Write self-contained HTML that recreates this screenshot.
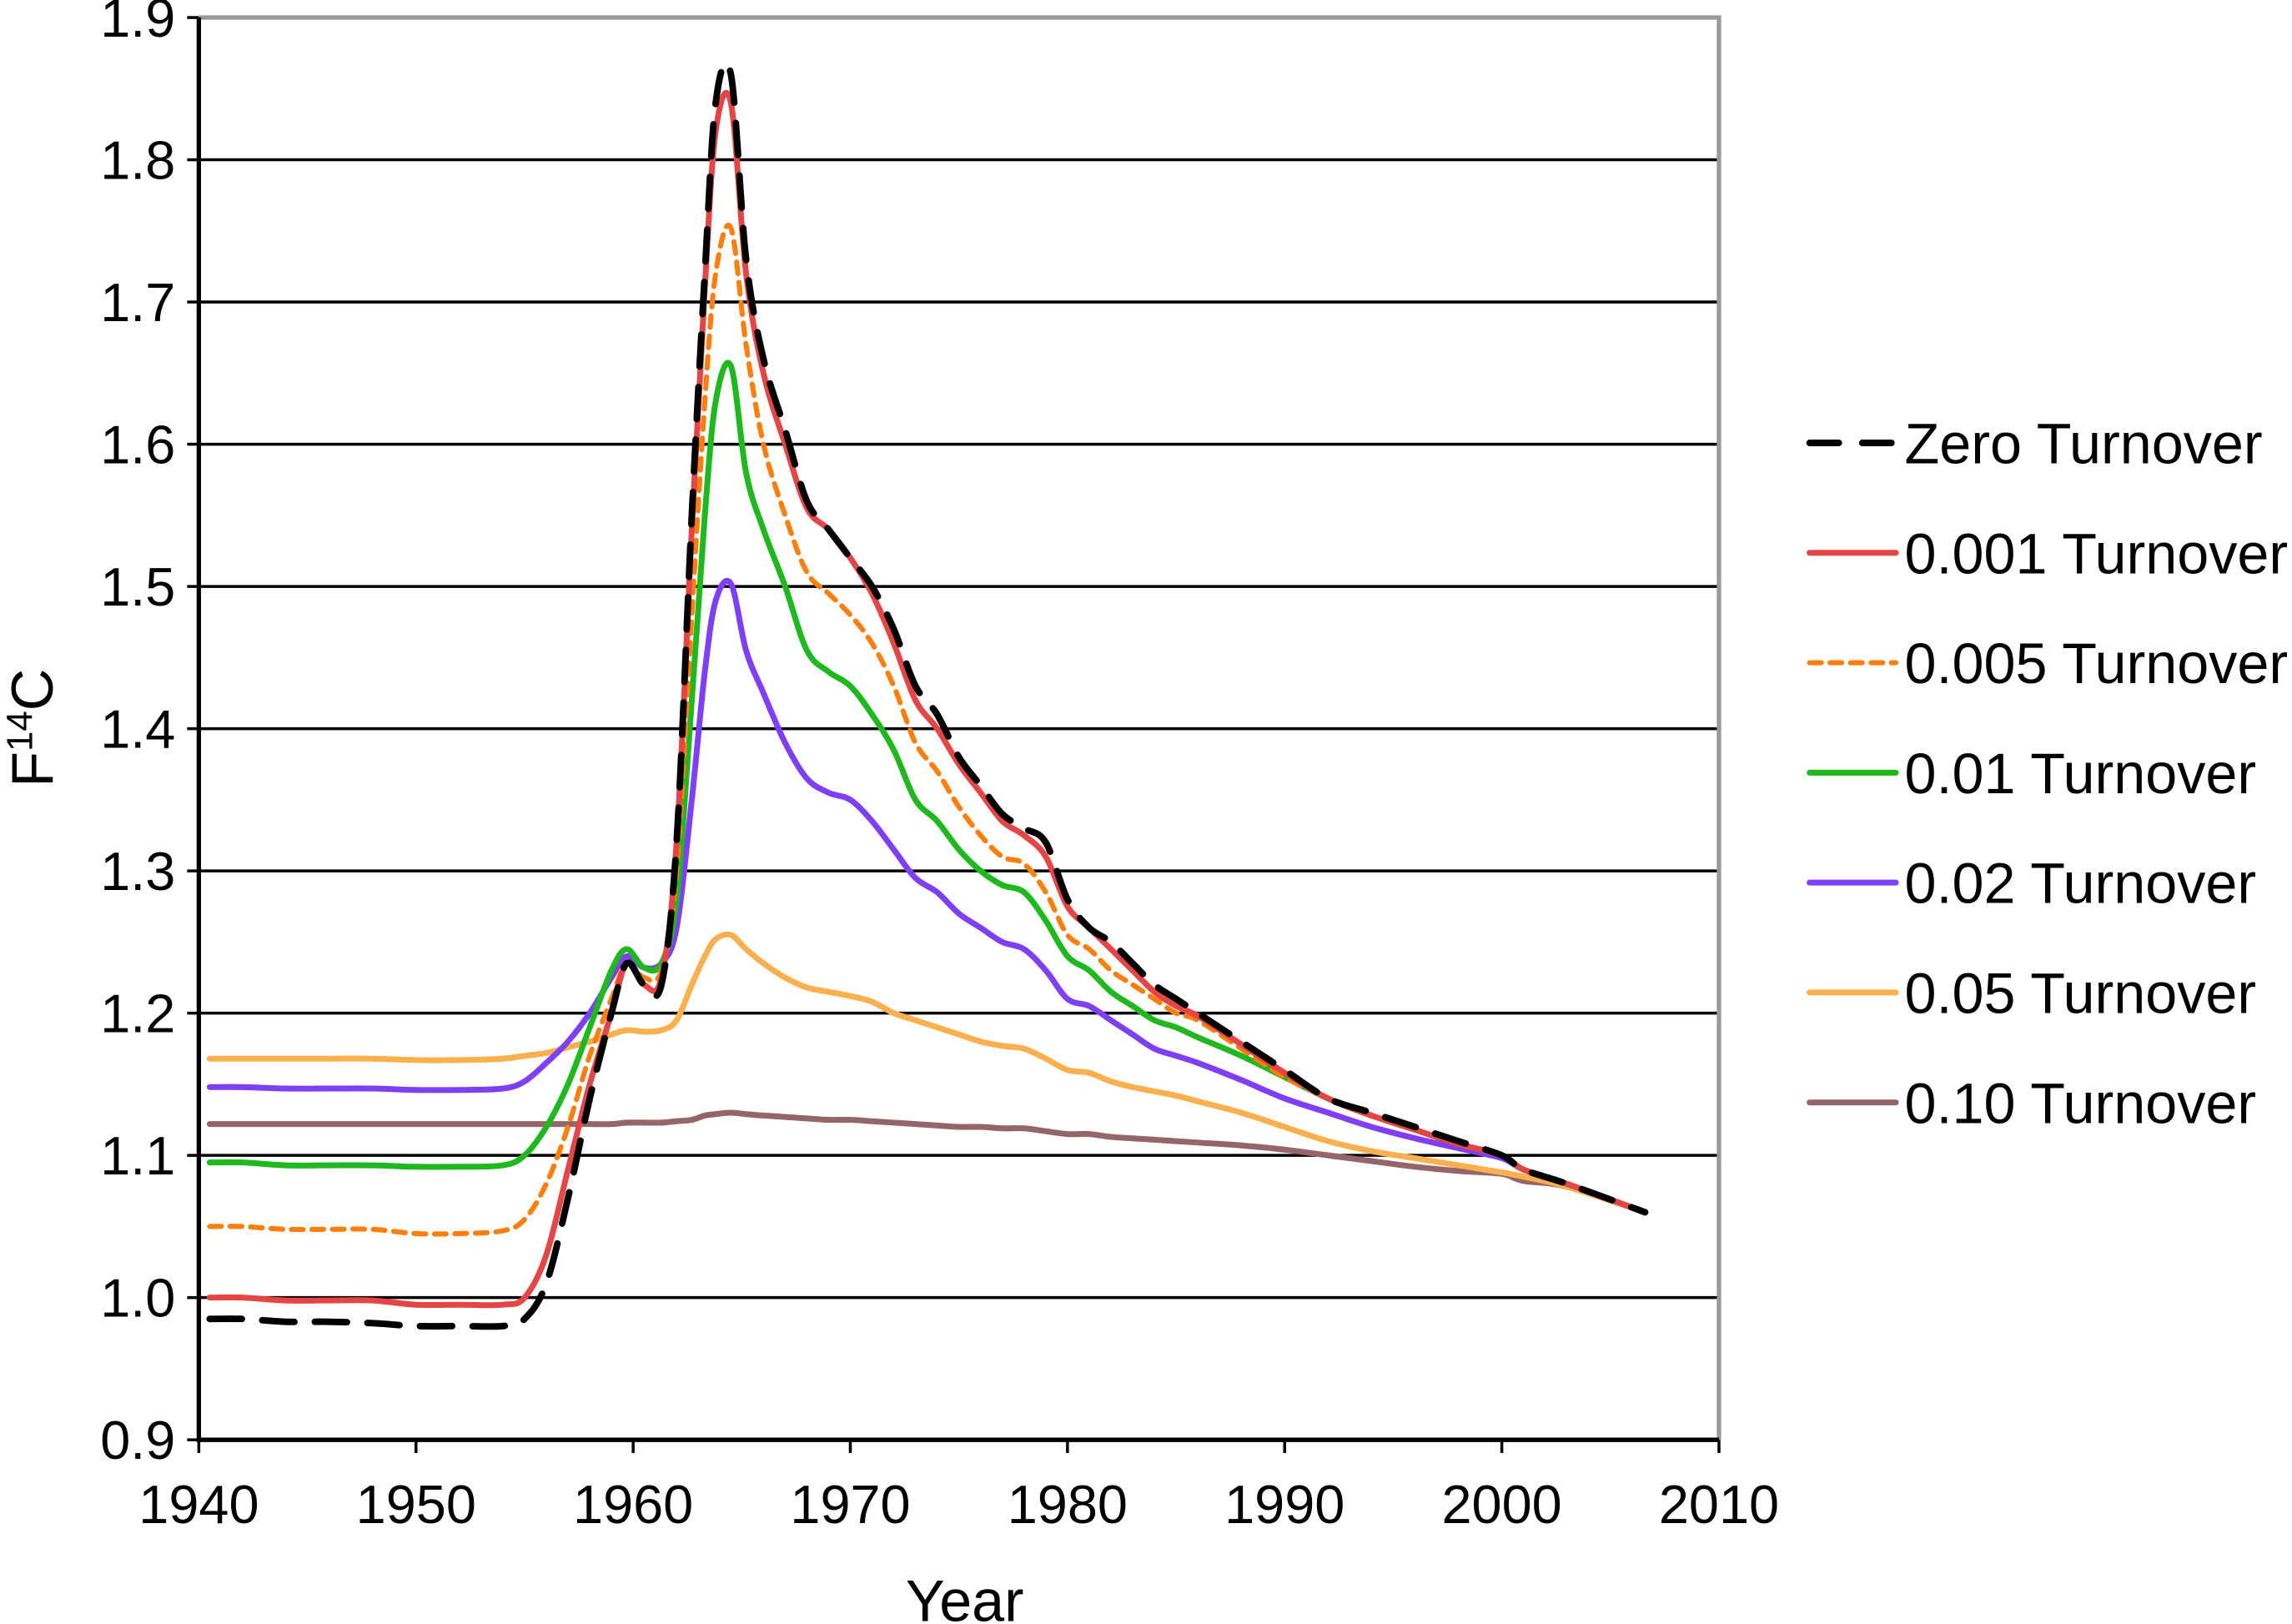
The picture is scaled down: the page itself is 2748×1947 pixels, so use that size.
<!DOCTYPE html>
<html><head><meta charset="utf-8"><style>
html,body{margin:0;padding:0;background:#fff;}
svg{display:block;font-family:"Liberation Sans",Arial,sans-serif;}
</style></head><body>
<svg id="chart" width="2748" height="1947" viewBox="0 0 1568 1111" xmlns="http://www.w3.org/2000/svg">
<g id="grid"></g>
<g id="series"></g>
<g id="axes"></g>
<g id="legend"></g>
<text x="660" y="1109" font-size="40" text-anchor="middle">Year</text>
<text transform="translate(36,498) rotate(-90)" font-size="40" text-anchor="middle">F<tspan font-size="25" dy="-14">14</tspan><tspan dy="14">C</tspan></text>
</svg>
<script>
const years=[1940.5,1942,1944,1946,1948,1950,1952,1954,1955,1956,1957,1958,1959,1959.7,1960.5,1961.3,1962,1962.7,1963.3,1963.8,1964.5,1965.2,1966,1967,1968,1969,1970,1971,1972,1973,1974,1975,1976,1977,1978,1979,1980,1981,1982,1983,1984,1985,1986,1988,1990,1992,1994,1996,1998,2000,2001,2003,2006.6];
const zeroT=[0.985,0.985,0.983,0.983,0.982,0.98,0.98,0.98,0.985,1.01,1.07,1.14,1.2,1.235,1.22,1.22,1.32,1.55,1.72,1.84,1.86,1.73,1.66,1.61,1.56,1.54,1.52,1.5,1.47,1.43,1.41,1.38,1.36,1.34,1.33,1.32,1.28,1.26,1.25,1.235,1.22,1.21,1.2,1.18,1.16,1.14,1.13,1.12,1.11,1.1,1.09,1.08,1.06];
const t001=[1.0,1.0,0.998,0.998,0.998,0.995,0.995,0.995,1.0,1.03,1.09,1.15,1.2,1.235,1.22,1.225,1.32,1.54,1.71,1.82,1.84,1.72,1.65,1.60,1.555,1.54,1.52,1.495,1.46,1.42,1.40,1.375,1.355,1.335,1.325,1.31,1.275,1.26,1.245,1.23,1.215,1.205,1.198,1.178,1.158,1.14,1.128,1.118,1.108,1.1,1.09,1.08,1.06];
const t005=[1.05,1.05,1.048,1.048,1.048,1.045,1.045,1.047,1.055,1.08,1.12,1.17,1.21,1.235,1.225,1.23,1.3,1.48,1.63,1.72,1.752,1.67,1.6,1.55,1.51,1.495,1.48,1.46,1.43,1.39,1.37,1.345,1.325,1.31,1.305,1.285,1.255,1.245,1.23,1.22,1.21,1.2,1.195,1.175,1.155,1.14,1.128,1.118,1.108,1.1,1.09,1.08,1.06];
const t01=[1.095,1.095,1.093,1.093,1.093,1.092,1.092,1.093,1.1,1.12,1.15,1.19,1.23,1.245,1.232,1.235,1.28,1.42,1.55,1.63,1.655,1.58,1.54,1.5,1.455,1.44,1.43,1.41,1.385,1.35,1.335,1.315,1.3,1.29,1.285,1.265,1.24,1.23,1.215,1.205,1.195,1.19,1.183,1.17,1.155,1.14,1.128,1.118,1.108,1.1,1.09,1.08,1.06];
const t02=[1.148,1.148,1.147,1.147,1.147,1.146,1.146,1.147,1.152,1.165,1.18,1.2,1.225,1.24,1.232,1.235,1.26,1.35,1.44,1.49,1.502,1.455,1.425,1.39,1.365,1.355,1.35,1.335,1.315,1.295,1.285,1.27,1.26,1.25,1.245,1.23,1.21,1.205,1.195,1.185,1.175,1.17,1.165,1.153,1.14,1.13,1.12,1.112,1.105,1.098,1.09,1.08,1.06];
const t05=[1.168,1.168,1.168,1.168,1.168,1.167,1.167,1.168,1.17,1.172,1.176,1.18,1.185,1.188,1.187,1.188,1.195,1.22,1.24,1.252,1.255,1.245,1.235,1.225,1.218,1.215,1.212,1.208,1.2,1.195,1.19,1.185,1.18,1.177,1.175,1.168,1.16,1.158,1.152,1.148,1.145,1.142,1.138,1.13,1.12,1.11,1.103,1.098,1.093,1.088,1.085,1.078,1.06];
const t10=[1.122,1.122,1.122,1.122,1.122,1.122,1.122,1.122,1.122,1.122,1.122,1.122,1.122,1.123,1.123,1.123,1.124,1.125,1.128,1.129,1.13,1.129,1.128,1.127,1.126,1.125,1.125,1.124,1.123,1.122,1.121,1.12,1.12,1.119,1.119,1.117,1.115,1.115,1.113,1.112,1.111,1.11,1.109,1.107,1.104,1.1,1.096,1.092,1.089,1.087,1.082,1.078,1.06];
const seriesNames=["Zero Turnover","0.001 Turnover","0.005 Turnover","0.01 Turnover","0.02 Turnover","0.05 Turnover","0.10 Turnover"];
const yTicks=[0.9,1.0,1.1,1.2,1.3,1.4,1.5,1.6,1.7,1.8,1.9];
const xTicks=[1940,1950,1960,1970,1980,1990,2000,2010];

const NS="http://www.w3.org/2000/svg";
const X0=136,X1=1176,Y0=985,Y1=12;
function xs(v){return X0+(v-1940)/70*(X1-X0);}
function ys(v){return Y0-(v-0.9)/1.0*(Y0-Y1);}
function mk(tag,attrs,parent){const e=document.createElementNS(NS,tag);for(const k in attrs)e.setAttribute(k,attrs[k]);parent.appendChild(e);return e;}
const grid=document.getElementById('grid'),axes=document.getElementById('axes'),ser=document.getElementById('series'),leg=document.getElementById('legend');

yTicks.forEach(v=>{
  if(v>0.95&&v<1.85){const l=mk('line',{x1:X0,x2:X1,y1:ys(v),y2:ys(v),stroke:'#000','stroke-width':2},grid);
  
  }
  const t=mk('line',{x1:X0-8,x2:X0,y1:ys(v),y2:ys(v),stroke:'#000','stroke-width':2},axes);
  
  
  const tx=mk('text',{x:X0-16,y:ys(v)+13,'font-size':37,'text-anchor':'end'},axes);
  tx.textContent=v.toFixed(1);
  
  
});
xTicks.forEach(v=>{
  const t=mk('line',{x1:xs(v),x2:xs(v),y1:Y0,y2:Y0+9,stroke:'#000','stroke-width':2},axes);
  
  
  const tx=mk('text',{x:xs(v),y:Y0+57,'font-size':37,'text-anchor':'middle'},axes);
  tx.textContent=v;
  
  
});
const fr=mk('polyline',{points:`${X0},${Y1} ${X1},${Y1} ${X1},${Y0}`,fill:'none',stroke:'#999','stroke-width':3},axes);


const ax=mk('polyline',{points:`${X0},${Y1} ${X0},${Y0} ${X1},${Y0}`,fill:'none',stroke:'#000','stroke-width':3},axes);



function pathD(xv,yv){
  const p=xv.map((x,i)=>[xs(x),ys(yv[i])]);
  let d=`M${p[0][0]},${p[0][1]}`;
  for(let i=0;i<p.length-1;i++){
    const a=p[Math.max(0,i-1)],b=p[i],c=p[i+1],e=p[Math.min(p.length-1,i+2)];
    const c1=[b[0]+(c[0]-a[0])/6,b[1]+(c[1]-a[1])/6],c2=[c[0]-(e[0]-b[0])/6,c[1]-(e[1]-b[1])/6];
    d+=` C${c1[0]},${c1[1]} ${c2[0]},${c2[1]} ${c[0]},${c[1]}`;
  }
  return d;
}
const data=[t10,t05,t02,t01,t005,t001,zeroT];
const styles=[
 {c:'#94666a',w:4,d:''},{c:'#fbb04e',w:4,d:''},{c:'#7f3ff5',w:4,d:''},{c:'#1fb81f',w:4,d:''},{c:'#ff7f0e',w:3.5,d:'8,6'},{c:'#e54545',w:4,d:''},{c:'#000',w:4.5,d:'22,14'}];
const names=["series-0-10-turnover","series-0-05-turnover","series-0-02-turnover","series-0-01-turnover","series-0-005-turnover","series-0-001-turnover","series-zero-turnover"];
data.forEach((arr,i)=>{
  const s=styles[i];
  const p=mk('path',{d:pathD(years,arr),fill:'none',stroke:s.c,'stroke-width':s.w,'stroke-linecap':'round','stroke-linejoin':'round'},ser);
  if(s.d)p.setAttribute('stroke-dasharray',s.d);
  
  
});
const legStyles=[styles[6],styles[5],styles[4],styles[3],styles[2],styles[1],styles[0]];
seriesNames.forEach((n,i)=>{
  const y=303+i*75.2, s=legStyles[i];
  const l=mk('line',{x1:1238,x2:1297,y1:y,y2:y,stroke:s.c,'stroke-width':s.w,'stroke-linecap':'round'},leg);
  if(s.d)l.setAttribute('stroke-dasharray',i==0?'20,16':s.d);
  
  
  const t=mk('text',{x:1303,y:y+14,'font-size':39},leg);
  t.textContent=n;
  
  
});
</script>
</body></html>
